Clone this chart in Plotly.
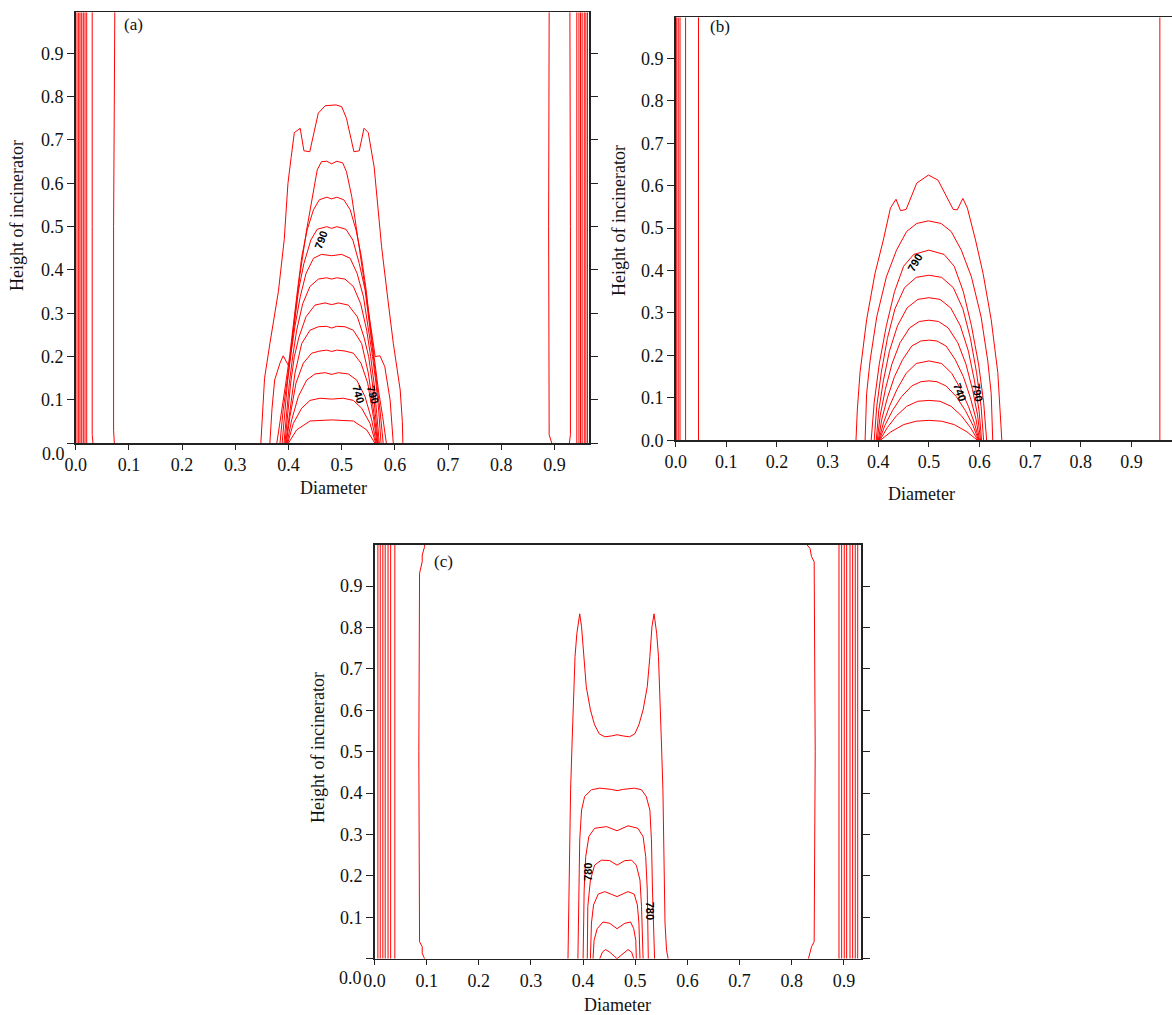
import plotly.graph_objects as go

W, H = 1172, 1015

# ---------------- tick values ----------------
tick_vals = [0.0, 0.1, 0.2, 0.3, 0.4, 0.5, 0.6, 0.7, 0.8, 0.9]
tick_text = ["0.0", "0.1", "0.2", "0.3", "0.4", "0.5", "0.6", "0.7", "0.8", "0.9"]
tick_text_no0 = ["", "0.1", "0.2", "0.3", "0.4", "0.5", "0.6", "0.7", "0.8", "0.9"]

# ---------------- panel (a) ----------------
a_walls_x = [0.0025, 0.0056, 0.0081, 0.0113, 0.0143, 0.0175, 0.0207,
             0.942, 0.946, 0.949, 0.952, 0.956, 0.959, 0.962]
a_w1_x = [0.0325, 0.031, 0.031, 0.031]
a_w1_y = [0.0, 0.02, 0.5, 0.995]
a_w2_x = [0.0727, 0.0712, 0.0712, 0.0727, 0.0735]
a_w2_y = [0.0, 0.03, 0.5, 0.97, 0.995]
a_w3_x = [0.895, 0.890, 0.889, 0.890]
a_w3_y = [0.0, 0.02, 0.5, 0.995]
a_w4_x = [0.928, 0.930, 0.930, 0.929]
a_w4_y = [0.0, 0.02, 0.5, 0.995]

a_c1_x = [0.348, 0.351, 0.355, 0.365, 0.381, 0.392, 0.399, 0.405, 0.411, 0.422, 0.429, 0.440, 0.456, 0.469,
          0.489, 0.500, 0.509, 0.523, 0.533, 0.542, 0.550, 0.561, 0.575, 0.587, 0.597, 0.610, 0.614, 0.615]
a_c1_y = [0.0, 0.08, 0.15, 0.23, 0.35, 0.47, 0.60, 0.66, 0.717, 0.727, 0.675, 0.673, 0.762, 0.779,
          0.781, 0.777, 0.750, 0.673, 0.675, 0.727, 0.717, 0.638, 0.454, 0.33, 0.231, 0.123, 0.05, 0.0]
a_c2_x = [0.365, 0.369, 0.374, 0.384, 0.390, 0.401, 0.409, 0.421, 0.434, 0.447, 0.454, 0.462, 0.472, 0.481,
          0.491, 0.502, 0.509, 0.519, 0.532, 0.548, 0.563, 0.572, 0.581, 0.591, 0.597]
a_c2_y = [0.0, 0.08, 0.146, 0.185, 0.202, 0.177, 0.262, 0.385, 0.492, 0.585, 0.631, 0.650, 0.651, 0.645,
          0.651, 0.647, 0.627, 0.569, 0.462, 0.323, 0.200, 0.202, 0.177, 0.100, 0.0]
a_c3_x = [0.378, 0.385, 0.393, 0.402, 0.409, 0.417, 0.425, 0.435, 0.447, 0.458, 0.472, 0.481, 0.491, 0.504,
          0.516, 0.527, 0.537, 0.546, 0.553, 0.561, 0.569, 0.577, 0.584]
a_c3_y = [0.0, 0.062, 0.123, 0.200, 0.276, 0.354, 0.431, 0.492, 0.539, 0.562, 0.568, 0.564, 0.568, 0.562,
          0.539, 0.492, 0.431, 0.354, 0.276, 0.200, 0.123, 0.062, 0.0]
a_c4_x = [0.384, 0.390, 0.397, 0.403, 0.410, 0.419, 0.429, 0.442, 0.454, 0.472, 0.481, 0.491, 0.508, 0.521,
          0.533, 0.544, 0.552, 0.560, 0.566, 0.572, 0.578]
a_c4_y = [0.0, 0.077, 0.139, 0.200, 0.276, 0.354, 0.415, 0.469, 0.494, 0.500, 0.496, 0.500, 0.494, 0.469,
          0.415, 0.354, 0.276, 0.200, 0.139, 0.077, 0.0]
a_c5_x = [0.388, 0.393, 0.398, 0.404, 0.412, 0.422, 0.433, 0.447, 0.462, 0.481, 0.500, 0.516, 0.529, 0.541,
          0.550, 0.558, 0.5645, 0.5695, 0.574]
a_c5_y = [0.0, 0.077, 0.139, 0.200, 0.269, 0.338, 0.392, 0.427, 0.436, 0.433, 0.436, 0.427, 0.392, 0.338,
          0.269, 0.200, 0.139, 0.077, 0.0]
a_c6_x = [0.3915, 0.3966, 0.4016, 0.4079, 0.4154, 0.4267, 0.4404, 0.4561, 0.4718, 0.4812, 0.4906, 0.5062,
          0.5219, 0.5357, 0.547, 0.5545, 0.5607, 0.5658, 0.5707]
a_c6_y = [0.0, 0.069, 0.139, 0.200, 0.261, 0.322, 0.362, 0.379, 0.382, 0.379, 0.382, 0.379, 0.362, 0.322,
          0.261, 0.200, 0.139, 0.069, 0.0]
a_c7_x = [0.3934, 0.3991, 0.4041, 0.411, 0.4197, 0.4329, 0.4498, 0.4687, 0.4812, 0.4937, 0.5125, 0.5294,
          0.5419, 0.5507, 0.5576, 0.5632, 0.5689]
a_c7_y = [0.0, 0.069, 0.139, 0.200, 0.245, 0.292, 0.319, 0.324, 0.320, 0.324, 0.319, 0.292, 0.245, 0.200,
          0.139, 0.069, 0.0]
a_c8_x = [0.3947, 0.4016, 0.4122, 0.4248, 0.4404, 0.4561, 0.4718, 0.4812, 0.4906, 0.5062, 0.5219, 0.5376,
          0.5501, 0.5607, 0.5677]
a_c8_y = [0.0, 0.069, 0.162, 0.230, 0.261, 0.269, 0.270, 0.266, 0.270, 0.269, 0.261, 0.230, 0.162, 0.069, 0.0]
a_c9_x = [0.3959, 0.4028, 0.4141, 0.4279, 0.4436, 0.4592, 0.4718, 0.4812, 0.4906, 0.5062, 0.5219, 0.5363,
          0.5489, 0.5595, 0.5664]
a_c9_y = [0.0, 0.062, 0.139, 0.185, 0.208, 0.213, 0.215, 0.212, 0.215, 0.213, 0.208, 0.185, 0.139, 0.062, 0.0]
a_c10_x = [0.3972, 0.406, 0.4185, 0.4342, 0.4498, 0.4687, 0.4812, 0.4937, 0.5125, 0.5282, 0.5438, 0.5564, 0.5651]
a_c10_y = [0.0, 0.054, 0.108, 0.146, 0.160, 0.163, 0.159, 0.163, 0.160, 0.146, 0.108, 0.054, 0.0]
a_c11_x = [0.3985, 0.4091, 0.4248, 0.4404, 0.4592, 0.4812, 0.5031, 0.5219, 0.5376, 0.5532, 0.5639]
a_c11_y = [0.0, 0.046, 0.081, 0.099, 0.104, 0.102, 0.104, 0.099, 0.081, 0.046, 0.0]
a_c12_x = [0.3997, 0.4154, 0.4404, 0.4812, 0.5219, 0.547, 0.5626]
a_c12_y = [0.0, 0.031, 0.0515, 0.054, 0.0515, 0.031, 0.0]

a_lab_text = ["790", "740", "790"]
a_lab_x = [0.461, 0.531, 0.558]
a_lab_y = [0.469, 0.113, 0.113]

# ---------------- panel (b) ----------------
b_walls_x = [0.002, 0.005, 0.0085, 0.0195, 0.045, 0.956]

b_c1_x = [0.356, 0.3586, 0.364, 0.377, 0.3935, 0.410, 0.424, 0.435, 0.444, 0.455, 0.476, 0.499, 0.518, 0.538,
          0.548, 0.556, 0.567, 0.576, 0.592, 0.607, 0.623, 0.636, 0.641, 0.644]
b_c1_y = [0.0, 0.071, 0.160, 0.284, 0.393, 0.472, 0.547, 0.568, 0.541, 0.544, 0.606, 0.625, 0.613, 0.566,
          0.544, 0.543, 0.570, 0.547, 0.472, 0.393, 0.284, 0.160, 0.071, 0.0]
b_c2_x = [0.374, 0.377, 0.384, 0.397, 0.416, 0.436, 0.456, 0.476, 0.499, 0.524, 0.544, 0.564, 0.584, 0.603,
          0.616, 0.623, 0.626]
b_c2_y = [0.0, 0.110, 0.189, 0.291, 0.385, 0.448, 0.492, 0.511, 0.517, 0.511, 0.492, 0.448, 0.385, 0.291,
          0.189, 0.110, 0.0]
b_c3_x = [0.386, 0.392, 0.402, 0.416, 0.432, 0.450, 0.470, 0.500, 0.530, 0.550, 0.568, 0.584, 0.598, 0.608, 0.614]
b_c3_y = [0.0, 0.09, 0.18, 0.27, 0.35, 0.41, 0.438, 0.448, 0.438, 0.41, 0.35, 0.27, 0.18, 0.09, 0.0]
b_c4_x = [0.392, 0.397, 0.406, 0.418, 0.433, 0.452, 0.475, 0.500, 0.525, 0.548, 0.567, 0.582, 0.594, 0.603, 0.608]
b_c4_y = [0.0, 0.08, 0.16, 0.24, 0.31, 0.36, 0.384, 0.389, 0.384, 0.36, 0.31, 0.24, 0.16, 0.08, 0.0]
b_c5_x = [0.396, 0.401, 0.410, 0.422, 0.438, 0.457, 0.478, 0.500, 0.522, 0.543, 0.562, 0.578, 0.590, 0.599, 0.604]
b_c5_y = [0.0, 0.07, 0.14, 0.21, 0.27, 0.312, 0.332, 0.336, 0.332, 0.312, 0.27, 0.21, 0.14, 0.07, 0.0]
b_c6_x = [0.398, 0.404, 0.414, 0.427, 0.443, 0.462, 0.481, 0.500, 0.519, 0.538, 0.557, 0.573, 0.586, 0.596, 0.602]
b_c6_y = [0.0, 0.06, 0.12, 0.18, 0.23, 0.265, 0.280, 0.283, 0.280, 0.265, 0.23, 0.18, 0.12, 0.06, 0.0]
b_c7_x = [0.400, 0.407, 0.418, 0.432, 0.448, 0.466, 0.484, 0.500, 0.516, 0.534, 0.552, 0.568, 0.582, 0.593, 0.600]
b_c7_y = [0.0, 0.05, 0.10, 0.15, 0.19, 0.222, 0.234, 0.236, 0.234, 0.222, 0.19, 0.15, 0.10, 0.05, 0.0]
b_c8_x = [0.401, 0.410, 0.422, 0.437, 0.455, 0.475, 0.500, 0.525, 0.545, 0.563, 0.578, 0.590, 0.599]
b_c8_y = [0.0, 0.04, 0.08, 0.12, 0.158, 0.181, 0.187, 0.181, 0.158, 0.12, 0.08, 0.04, 0.0]
b_c9_x = [0.402, 0.413, 0.428, 0.446, 0.466, 0.484, 0.500, 0.516, 0.534, 0.554, 0.572, 0.587, 0.598]
b_c9_y = [0.0, 0.035, 0.07, 0.103, 0.128, 0.138, 0.140, 0.138, 0.128, 0.103, 0.07, 0.035, 0.0]
b_c10_x = [0.403, 0.418, 0.436, 0.456, 0.478, 0.500, 0.522, 0.544, 0.564, 0.582, 0.597]
b_c10_y = [0.0, 0.03, 0.058, 0.08, 0.092, 0.094, 0.092, 0.08, 0.058, 0.03, 0.0]
b_c11_x = [0.404, 0.425, 0.450, 0.475, 0.500, 0.525, 0.550, 0.575, 0.596]
b_c11_y = [0.0, 0.02, 0.037, 0.045, 0.047, 0.045, 0.037, 0.02, 0.0]

b_lab_text = ["790", "740", "790"]
b_lab_x = [0.4735, 0.561, 0.596]
b_lab_y = [0.419, 0.114, 0.114]

# ---------------- panel (c) ----------------
c_walls_x = [0.0065, 0.011, 0.016, 0.0205, 0.026, 0.031, 0.039,
             0.8906, 0.8957, 0.9007, 0.9053, 0.9117, 0.9168, 0.9218, 0.9265]
c_w1_x = [0.096, 0.0915, 0.0915, 0.0864, 0.085, 0.0864, 0.0915, 0.0915, 0.096, 0.096]
c_w1_y = [0.0, 0.013, 0.029, 0.041, 0.5, 0.931, 0.959, 0.975, 0.995, 1.0]
c_w2_x = [0.832, 0.835, 0.838, 0.843, 0.845, 0.843, 0.838, 0.835, 0.829]
c_w2_y = [0.0, 0.017, 0.029, 0.041, 0.5, 0.959, 0.971, 0.991, 1.0]

c_c1_x = [0.371, 0.372, 0.373, 0.374, 0.376, 0.379, 0.382, 0.3845, 0.388, 0.3935, 0.397, 0.401, 0.406, 0.414,
          0.422, 0.431, 0.4415, 0.454, 0.465, 0.477, 0.489, 0.499, 0.507, 0.515, 0.523, 0.528, 0.532, 0.536,
          0.541, 0.5445, 0.547, 0.550, 0.553, 0.555, 0.556, 0.557, 0.560, 0.563]
c_c1_y = [0.0, 0.086, 0.166, 0.287, 0.408, 0.528, 0.649, 0.730, 0.786, 0.833, 0.802, 0.730, 0.657, 0.601,
          0.565, 0.543, 0.536, 0.538, 0.541, 0.538, 0.536, 0.543, 0.565, 0.601, 0.657, 0.730, 0.802, 0.833,
          0.786, 0.730, 0.649, 0.528, 0.408, 0.287, 0.166, 0.086, 0.020, 0.0]
c_c2_x = [0.390, 0.392, 0.3935, 0.397, 0.403, 0.416, 0.432, 0.454, 0.465, 0.477, 0.499, 0.512, 0.521, 0.528,
          0.531, 0.533, 0.537]
c_c2_y = [0.0, 0.166, 0.287, 0.359, 0.392, 0.408, 0.412, 0.409, 0.406, 0.409, 0.412, 0.408, 0.392, 0.359,
          0.287, 0.166, 0.0]
c_c3_x = [0.400, 0.402, 0.405, 0.411, 0.422, 0.445, 0.465, 0.486, 0.505, 0.515, 0.520, 0.523, 0.525]
c_c3_y = [0.0, 0.166, 0.247, 0.295, 0.315, 0.319, 0.309, 0.321, 0.315, 0.295, 0.247, 0.166, 0.0]
c_c4_x = [0.408, 0.409, 0.414, 0.422, 0.435, 0.451, 0.465, 0.480, 0.493, 0.502, 0.509, 0.512, 0.515]
c_c4_y = [0.0, 0.126, 0.190, 0.226, 0.238, 0.237, 0.226, 0.237, 0.238, 0.226, 0.190, 0.126, 0.0]
c_c5_x = [0.414, 0.416, 0.420, 0.429, 0.4415, 0.465, 0.486, 0.498, 0.504, 0.507, 0.509]
c_c5_y = [0.0, 0.086, 0.130, 0.156, 0.162, 0.150, 0.162, 0.156, 0.130, 0.086, 0.0]
c_c6_x = [0.419, 0.421, 0.427, 0.438, 0.451, 0.465, 0.480, 0.491, 0.497, 0.501, 0.502]
c_c6_y = [0.0, 0.044, 0.0725, 0.0886, 0.0855, 0.0725, 0.0855, 0.0886, 0.0725, 0.044, 0.0]
c_c7_x = [0.432, 0.437, 0.443, 0.451, 0.465, 0.480, 0.486, 0.493, 0.497]
c_c7_y = [0.0, 0.016, 0.022, 0.016, 0.0, 0.016, 0.022, 0.016, 0.0]

c_lab_text = ["780", "780"]
c_lab_x = [0.409, 0.529]
c_lab_y = [0.209, 0.115]

# ---------------- layout geometry (pixels) ----------------
A_RANGE_X, A_RANGE_Y = [0, 0.9649], [0, 0.9947]
B_RANGE_X, B_RANGE_Y = [0, 0.980], [0, 0.9967]
C_RANGE_X, C_RANGE_Y = [0, 0.9328], [0, 1.0]

RED = "#ff0000"
AXC = "#222222"
SERIF = "Liberation Serif"

fig = go.Figure()


def add_lines(xs_list, ys_list, xa, ya):
    X, Y = [], []
    for xs, ys in zip(xs_list, ys_list):
        X += list(xs) + [None]
        Y += list(ys) + [None]
    fig.add_trace(go.Scatter(x=X, y=Y, mode="lines", xaxis=xa, yaxis=ya,
                             line=dict(color=RED, width=1), hoverinfo="skip",
                             showlegend=False))


def walls(xs, yr):
    return [[v, v] for v in xs], [[yr[0], yr[1]] for _ in xs]


# panel a
wx, wy = walls(a_walls_x, A_RANGE_Y)
add_lines(wx + [a_w1_x, a_w2_x, a_w3_x, a_w4_x,
                a_c1_x, a_c2_x, a_c3_x, a_c4_x, a_c5_x, a_c6_x, a_c7_x, a_c8_x, a_c9_x, a_c10_x, a_c11_x, a_c12_x],
          wy + [a_w1_y, a_w2_y, a_w3_y, a_w4_y,
                a_c1_y, a_c2_y, a_c3_y, a_c4_y, a_c5_y, a_c6_y, a_c7_y, a_c8_y, a_c9_y, a_c10_y, a_c11_y, a_c12_y],
          "x", "y")
# panel b
wx, wy = walls(b_walls_x, B_RANGE_Y)
add_lines(wx + [b_c1_x, b_c2_x, b_c3_x, b_c4_x, b_c5_x, b_c6_x, b_c7_x, b_c8_x, b_c9_x, b_c10_x, b_c11_x],
          wy + [b_c1_y, b_c2_y, b_c3_y, b_c4_y, b_c5_y, b_c6_y, b_c7_y, b_c8_y, b_c9_y, b_c10_y, b_c11_y],
          "x2", "y2")
# panel c
wx, wy = walls(c_walls_x, C_RANGE_Y)
add_lines(wx + [c_w1_x, c_w2_x, c_c1_x, c_c2_x, c_c3_x, c_c4_x, c_c5_x, c_c6_x, c_c7_x],
          wy + [c_w1_y, c_w2_y, c_c1_y, c_c2_y, c_c3_y, c_c4_y, c_c5_y, c_c6_y, c_c7_y],
          "x3", "y3")


def px(v):
    return v / W


def py(v):
    return 1 - v / H


def xaxis(dom, rng, anchor, mirror=True):
    return dict(domain=[px(dom[0]), px(dom[1])], range=rng, anchor=anchor, automargin=False,
                tickvals=tick_vals, ticktext=tick_text, ticks="outside", ticklen=5,
                tickcolor=AXC, tickwidth=1, showline=True, linecolor=AXC, linewidth=1.5,
                mirror=mirror, showgrid=False, zeroline=False, fixedrange=True,
                tickfont=dict(family=SERIF, size=18, color="#111"))


def yaxis(dom, rng, anchor, text, mirror):
    return dict(domain=[py(dom[0]), py(dom[1])], range=rng, anchor=anchor, automargin=False,
                tickvals=tick_vals, ticktext=text, ticks="outside", ticklen=7,
                tickcolor=AXC, tickwidth=1, showline=True, linecolor=AXC, linewidth=1.5,
                mirror=mirror, showgrid=False, zeroline=False, fixedrange=True,
                tickfont=dict(family=SERIF, size=18, color="#111"))


annots = []


def text_px(x, y, t, size=18, angle=0, family=SERIF):
    annots.append(dict(x=px(x), y=py(y), xref="paper", yref="paper", text=t, showarrow=False,
                       textangle=angle, xanchor="center", yanchor="middle",
                       font=dict(family=family, size=size, color="#111")))


# axis titles
for (xt, yt), (xy_, yy_) in [((333, 488), (17, 216)), ((921, 494), (619, 221)), ((617, 1005), (318, 748))]:
    text_px(xt, yt, "Diameter")
    text_px(xy_, yy_, "Height of incinerator", angle=-90)

# panel letters
text_px(133, 25, "(a)", size=17)
text_px(720, 27, "(b)", size=17)
text_px(444, 561, "(c)", size=17)
# displaced y-axis zero labels
text_px(53, 454, "0.0")
text_px(350, 978, "0.0")


def contour_labels(texts, xs, ys, angles, xr, yr):
    for t, x, y, a in zip(texts, xs, ys, angles):
        annots.append(dict(x=x, y=y, xref=xr, yref=yr, text="<b>" + t + "</b>", showarrow=False,
                           textangle=a, xanchor="center", yanchor="middle",
                           font=dict(family="Liberation Sans", size=11, color="#000")))


contour_labels(a_lab_text, a_lab_x, a_lab_y, [-70, 75, 75], "x", "y")
contour_labels(b_lab_text, b_lab_x, b_lab_y, [-60, 70, 80], "x2", "y2")
contour_labels(c_lab_text, c_lab_x, c_lab_y, [-90, 90], "x3", "y3")

fig.update_layout(
    template="none",
    width=W, height=H, autosize=False,
    margin=dict(l=0, r=0, t=0, b=0, pad=0),
    paper_bgcolor="white", plot_bgcolor="white",
    showlegend=False,
    hovermode=False,
    xaxis=xaxis((75.7, 589), A_RANGE_X, "y"),
    yaxis=yaxis((443.3, 12.3), A_RANGE_Y, "x", tick_text_no0, "ticks"),
    xaxis2=xaxis((675.7, 1172), B_RANGE_X, "y2"),
    yaxis2=yaxis((440.3, 17.3), B_RANGE_Y, "x2", tick_text, False),
    xaxis3=xaxis((374.5, 861), C_RANGE_X, "y3"),
    yaxis3=yaxis((958.7, 544.7), C_RANGE_Y, "x3", tick_text_no0, "ticks"),
    annotations=annots,
)

fig.write_html("out.html",
               config={"displayModeBar": False, "staticPlot": True},
               post_script="document.body.style.margin='0px';document.body.style.overflow='hidden';")
